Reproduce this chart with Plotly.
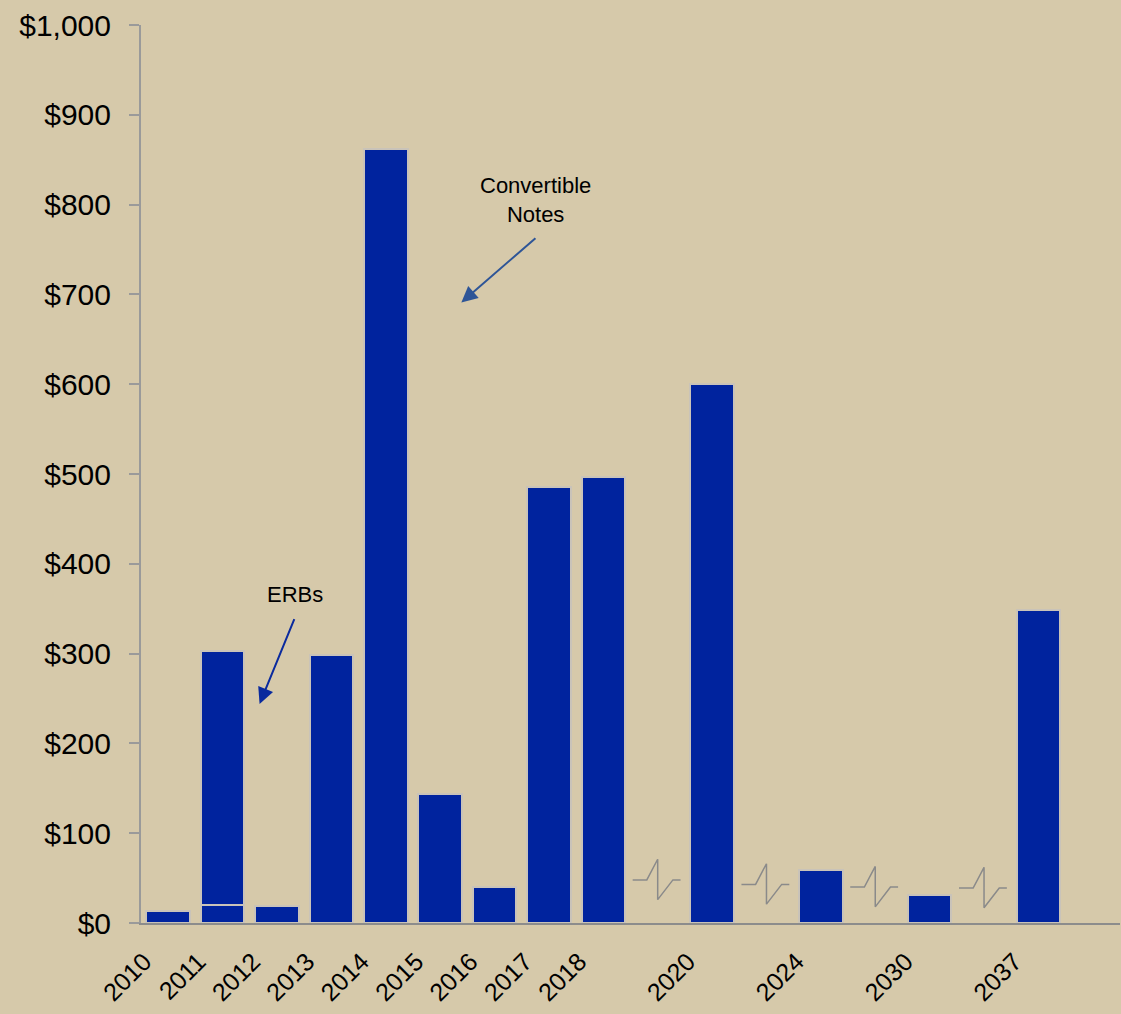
import plotly.graph_objects as go

# ---- data ----
categories = ["2010", "2011", "2012", "2013", "2014", "2015", "2016", "2017", "2018",
              "", "2020", "", "2024", "", "2030", "", "2037"]
erbs = [0, 20, 0, 0, 0, 0, 0, 0, 0, None, 0, None, 0, None, 0, None, 0]
convertible_notes = [13, 283, 19, 299, 862, 144, 40, 485, 497, None, 600, None, 59, None, 31, None, 349]
y_ticks = [0, 100, 200, 300, 400, 500, 600, 700, 800, 900, 1000]
y_tick_labels = ["$0", "$100", "$200", "$300", "$400", "$500", "$600", "$700", "$800", "$900", "$1,000"]

# axis-break markers drawn in the empty slots (category index, level in $)
break_slots = [9, 11, 13, 15]
break_levels = [48, 43, 40, 39]

BG = "#D6C9AA"
BAR = "#00239E"
GRAY = "#8C8C8C"
EDGE = "#C9C3B9"

x_idx = list(range(len(categories)))
label_idx = [i for i, c in enumerate(categories) if c]
label_txt = [c for c in categories if c]

fig = go.Figure()
fig.add_trace(go.Bar(
    x=x_idx, y=erbs, name="ERBs",
    marker=dict(color=BAR, line=dict(color=EDGE, width=2)),
    hoverinfo="skip", showlegend=False,
))
fig.add_trace(go.Bar(
    x=x_idx, y=convertible_notes, name="Convertible Notes",
    marker=dict(color=BAR, line=dict(color=EDGE, width=2)),
    showlegend=False,
))

# zig-zag break symbols
dx = [-0.46, -0.2, 0.0, 0.0, 0.28, 0.42]
dy = [0, 0, 23, -22, 0, 0]
for s, lvl in zip(break_slots, break_levels):
    fig.add_trace(go.Scatter(
        x=[s + d for d in dx], y=[lvl + d for d in dy],
        mode="lines", line=dict(color="#8A8A8A", width=1.5),
        hoverinfo="skip", showlegend=False,
    ))

fig.update_layout(
    width=1121, height=1014,
    barmode="stack", bargap=0.2,
    paper_bgcolor=BG, plot_bgcolor=BG,
    margin=dict(l=141, r=1, t=25, b=91),
    font=dict(family="Liberation Sans, Arial, sans-serif", color="black"),
    xaxis=dict(
        range=[-0.5, 17.5], tickmode="array", tickvals=label_idx, ticktext=label_txt,
        tickangle=-45, tickfont=dict(size=25), showgrid=False, zeroline=False,
        showline=True, linecolor=GRAY, linewidth=2, ticks="",
        ticklabelstandoff=12, ticklabelshift=-24, automargin=False,
    ),
    yaxis=dict(
        range=[0, 1000], tickmode="array", tickvals=y_ticks, ticktext=y_tick_labels,
        tickfont=dict(size=30), showgrid=False, zeroline=False,
        showline=True, linecolor="#9A9A9A", linewidth=2, ticks="outside",
        ticklen=10, tickcolor="#9A9A9A", tickwidth=2, ticklabelstandoff=12,
        automargin=False,
    ),
    annotations=[
        dict(x=6.75, y=805, xref="x", yref="y", text="Convertible<br>Notes",
             showarrow=False, font=dict(size=22), align="center"),
        dict(x=5.39, y=691, ax=6.78, ay=764, xref="x", yref="y", axref="x", ayref="y",
             text="", showarrow=True, arrowhead=2, arrowsize=1.6, arrowwidth=2,
             arrowcolor="#2E5597"),
        dict(x=2.34, y=366, xref="x", yref="y", text="ERBs",
             showarrow=False, font=dict(size=22)),
        dict(x=1.68, y=244, ax=2.33, ay=340, xref="x", yref="y", axref="x", ayref="y",
             text="", showarrow=True, arrowhead=2, arrowsize=1.6, arrowwidth=2,
             arrowcolor="#0A2A9E"),
    ],
)

fig.write_html("out.html", config={"displayModeBar": False},
               post_script="document.body.style.margin='0';document.body.style.overflow='hidden';")
